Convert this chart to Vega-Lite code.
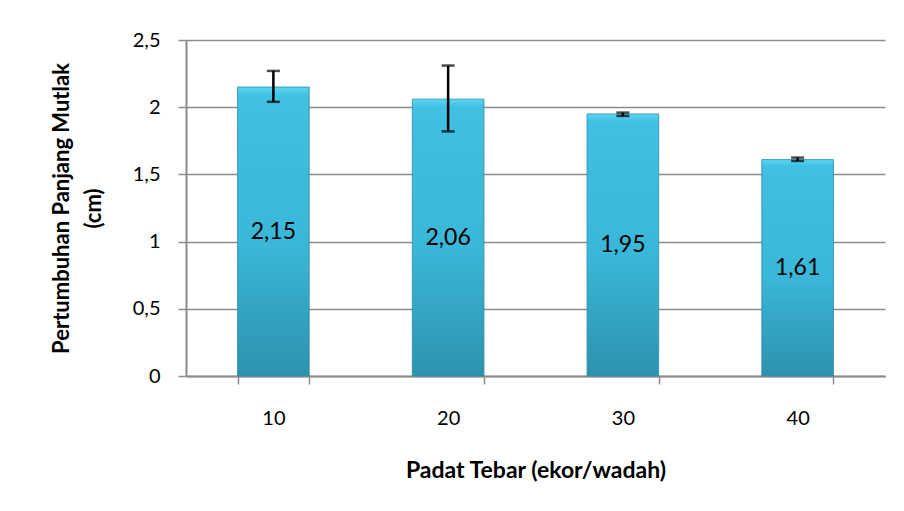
{
  "$schema": "https://vega.github.io/schema/vega-lite/v6.json",
  "width": 699,
  "height": 336,
  "autosize": {"type": "none"},
  "padding": {"left": 186, "top": 40, "right": 19, "bottom": 135},
  "background": "white",
  "config": {
    "locale": {"number": {"decimal": ",", "thousands": ".", "grouping": [3], "currency": ["", ""]}},
    "view": {"stroke": null},
    "font": "Lato"
  },
  "data": {
    "values": [
      {"d": "10", "v": 2.15, "lo": 2.04, "hi": 2.27},
      {"d": "20", "v": 2.06, "lo": 1.82, "hi": 2.31},
      {"d": "30", "v": 1.95, "lo": 1.935, "hi": 1.96},
      {"d": "40", "v": 1.61, "lo": 1.60, "hi": 1.625}
    ]
  },
  "encoding": {
    "x": {
      "field": "d",
      "type": "nominal",
      "sort": null,
      "scale": {"paddingInner": 0.59, "paddingOuter": 0.295},
      "axis": {
        "title": "Padat Tebar (ekor/wadah)",
        "titleFont": "Lato",
        "titleFontSize": 23,
        "titleFontWeight": "bold",
        "titleColor": "black",
        "titlePadding": 31,
        "labelAngle": 0,
        "labelFont": "Lato",
        "labelFontSize": 20,
        "labelColor": "black",
        "labelPadding": 24,
        "tickBand": "extent",
        "tickSize": 8,
        "tickColor": "#8c8c8c",
        "tickWidth": 1.5,
        "domainColor": "#8c8c8c",
        "domainWidth": 2,
        "grid": false
      }
    }
  },
  "layer": [
    {
      "mark": {
        "type": "bar",
        "fill": {
          "gradient": "linear",
          "x1": 0, "y1": 0, "x2": 0, "y2": 1,
          "stops": [
            {"offset": 0, "color": "#5ad6f2"},
            {"offset": 0.03, "color": "#40c0e2"},
            {"offset": 0.55, "color": "#3ab6d8"},
            {"offset": 1, "color": "#2c92ae"}
          ]
        },
        "stroke": "#2a8aa6",
        "strokeWidth": 0.8
      },
      "encoding": {
        "y": {
          "field": "v",
          "type": "quantitative",
          "scale": {"domain": [0, 2.5], "nice": false},
          "axis": {
            "title": ["Pertumbuhan Panjang Mutlak", "(cm)"],
            "titleFont": "Lato",
            "titleFontSize": 22,
            "titleFontWeight": "bold",
            "titleColor": "black",
            "titleLineHeight": 32,
            "titlePadding": 27,
            "values": [0, 0.5, 1, 1.5, 2, 2.5],
            "format": "~g",
            "labelFont": "Lato",
            "labelFontSize": 20,
            "labelColor": "black",
            "labelPadding": 18,
            "tickSize": 8,
            "tickColor": "#8c8c8c",
            "tickWidth": 1.5,
            "domainColor": "#8c8c8c",
            "domainWidth": 2,
            "grid": true,
            "gridColor": "#8c8c8c",
            "gridWidth": 1.5
          }
        }
      }
    },
    {
      "mark": {"type": "rule", "color": "black", "strokeWidth": 2.5},
      "encoding": {
        "y": {"field": "lo", "type": "quantitative"},
        "y2": {"field": "hi"}
      }
    },
    {
      "mark": {"type": "tick", "color": "black", "size": 13, "thickness": 2.5},
      "encoding": {"y": {"field": "lo", "type": "quantitative"}}
    },
    {
      "mark": {"type": "tick", "color": "black", "size": 13, "thickness": 2.5},
      "encoding": {"y": {"field": "hi", "type": "quantitative"}}
    },
    {
      "transform": [{"calculate": "datum.v / 2", "as": "mid"}],
      "mark": {"type": "text", "font": "Lato", "fontSize": 23, "color": "black", "baseline": "middle"},
      "encoding": {
        "y": {"field": "mid", "type": "quantitative"},
        "text": {"field": "v", "type": "quantitative", "format": ".2f"}
      }
    }
  ]
}
